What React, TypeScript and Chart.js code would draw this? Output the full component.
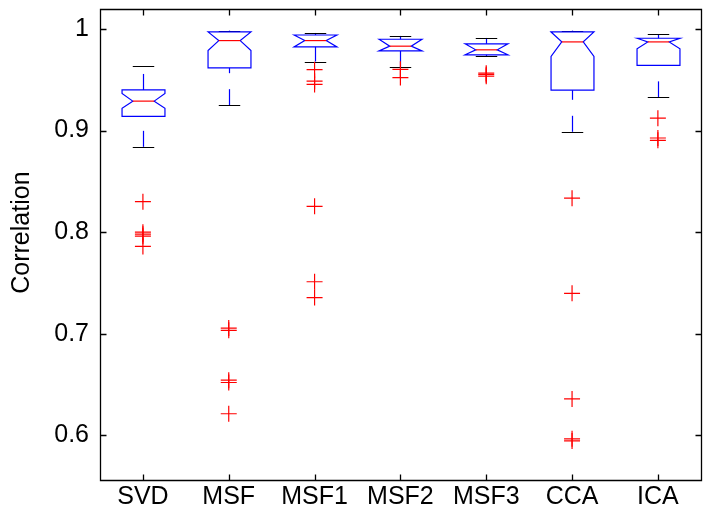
import React, { useEffect, useRef } from 'react';
import { Chart, registerables } from 'chart.js';

Chart.register(...registerables);

const categories = ['SVD', 'MSF', 'MSF1', 'MSF2', 'MSF3', 'CCA', 'ICA'];
const lowerWhisker = [0.884, 0.925, 0.968, 0.9626, 0.9734, 0.8988, 0.9327];
const q1Values = [0.914, 0.9617, 0.9824, 0.9785, 0.9746, 0.9398, 0.9642];
const medians = [0.929, 0.9886, 0.9886, 0.9831, 0.9795, 0.9873, 0.9873];
const q3Values = [0.94, 0.9972, 0.9941, 0.9899, 0.9854, 0.9971, 0.9909];
const upperWhisker = [0.9636, 0.9984, 0.9961, 0.9932, 0.9912, 0.9984, 0.9951];
const notchLow = [0.922, 0.9788, 0.9824, 0.9785, 0.9746, 0.973, 0.9805];
const notchHigh = [0.9366, 0.9972, 0.9941, 0.9899, 0.9854, 0.9971, 0.9909];
const outliers: number[][] = [
  [0.83, 0.8, 0.798, 0.796, 0.786],
  [0.7056, 0.7034, 0.6543, 0.652, 0.6212],
  [0.96, 0.9486, 0.9454, 0.8254, 0.7512, 0.7356],
  [0.9603, 0.9522],
  [0.9565, 0.955, 0.9535],
  [0.8335, 0.7398, 0.6358, 0.5965, 0.5945],
  [0.9122, 0.8927, 0.8904],
];
const yTicks = [0.6, 0.7, 0.8, 0.9, 1];
const yMin = 0.556;
const yMax = 1.0195;
const yTitle = 'Correlation';

const FONT = "'Liberation Sans', Arial, Helvetica, sans-serif";

const boxPlugin = {
  id: 'boxPlugin',
  beforeDatasetsDraw(chart: any) {
    const { ctx, scales } = chart;
    const xs = scales.x;
    const ys = scales.y;
    const unit = xs.getPixelForValue(2) - xs.getPixelForValue(1);
    const halfBox = unit * 0.25;
    const halfNotch = halfBox / 2;
    const halfCap = unit * 0.125;
    ctx.save();
    ctx.lineWidth = 1.2;
    categories.forEach((_, i) => {
      const cx = Math.round(xs.getPixelForValue(i + 1)) + 0.5;
      const pLw = ys.getPixelForValue(lowerWhisker[i]);
      const pQ1 = ys.getPixelForValue(q1Values[i]);
      const pMed = ys.getPixelForValue(medians[i]);
      const pQ3 = ys.getPixelForValue(q3Values[i]);
      const pUw = ys.getPixelForValue(upperWhisker[i]);
      const pNl = ys.getPixelForValue(notchLow[i]);
      const pNh = ys.getPixelForValue(notchHigh[i]);
      const l = cx - halfBox;
      const r = cx + halfBox;
      // whiskers (dashed blue, drawn bottom to top)
      ctx.strokeStyle = '#0000ff';
      ctx.setLineDash([16, 16]);
      ctx.beginPath();
      ctx.moveTo(cx, pLw);
      ctx.lineTo(cx, pQ1);
      ctx.stroke();
      ctx.beginPath();
      ctx.moveTo(cx, pQ3);
      ctx.lineTo(cx, pUw);
      ctx.stroke();
      ctx.setLineDash([]);
      // caps
      ctx.strokeStyle = '#000000';
      ctx.beginPath();
      ctx.moveTo(cx - halfCap, Math.round(pLw) + 0.5);
      ctx.lineTo(cx + halfCap, Math.round(pLw) + 0.5);
      ctx.moveTo(cx - halfCap, Math.round(pUw) + 0.5);
      ctx.lineTo(cx + halfCap, Math.round(pUw) + 0.5);
      ctx.stroke();
      // notched box
      ctx.strokeStyle = '#0000ff';
      ctx.beginPath();
      ctx.moveTo(l, pQ3);
      ctx.lineTo(l, pNh);
      ctx.lineTo(cx - halfNotch, pMed);
      ctx.lineTo(l, pNl);
      ctx.lineTo(l, pQ1);
      ctx.lineTo(r, pQ1);
      ctx.lineTo(r, pNl);
      ctx.lineTo(cx + halfNotch, pMed);
      ctx.lineTo(r, pNh);
      ctx.lineTo(r, pQ3);
      ctx.closePath();
      ctx.stroke();
      // median
      ctx.strokeStyle = '#ff0000';
      ctx.beginPath();
      ctx.moveTo(cx - halfNotch, pMed);
      ctx.lineTo(cx + halfNotch, pMed);
      ctx.stroke();
    });
    ctx.restore();
  },
  afterDraw(chart: any) {
    const { ctx, chartArea, scales } = chart;
    const xs = scales.x;
    const ys = scales.y;
    const L = Math.round(chartArea.left) + 0.5;
    const R = Math.round(chartArea.right) + 0.5;
    const T = Math.round(chartArea.top) + 0.5;
    const B = Math.round(chartArea.bottom) + 0.5;
    ctx.save();
    ctx.strokeStyle = '#000000';
    ctx.lineWidth = 1.3;
    ctx.beginPath();
    ctx.rect(L, T, R - L, B - T);
    const tl = 6;
    categories.forEach((_, i) => {
      const x = Math.round(xs.getPixelForValue(i + 1)) + 0.5;
      ctx.moveTo(x, B);
      ctx.lineTo(x, B - tl);
      ctx.moveTo(x, T);
      ctx.lineTo(x, T + tl);
    });
    yTicks.forEach((v) => {
      const y = Math.round(ys.getPixelForValue(v)) + 0.5;
      ctx.moveTo(L, y);
      ctx.lineTo(L + tl, y);
      ctx.moveTo(R, y);
      ctx.lineTo(R - tl, y);
    });
    ctx.stroke();
    // y title
    ctx.fillStyle = '#000000';
    ctx.font = `25px ${FONT}`;
    ctx.textAlign = 'center';
    ctx.textBaseline = 'middle';
    ctx.translate(22, (chartArea.top + chartArea.bottom) / 2 - 12);
    ctx.rotate(-Math.PI / 2);
    ctx.fillText(yTitle, 0, 0);
    ctx.restore();
  },
};

export default function App() {
  const ref = useRef<HTMLCanvasElement | null>(null);
  useEffect(() => {
    if (!ref.current) return;
    const points: { x: number; y: number }[] = [];
    outliers.forEach((arr, i) => arr.forEach((v) => points.push({ x: i + 1, y: v })));
    const chart = new Chart(ref.current, {
      type: 'scatter',
      data: {
        datasets: [
          {
            data: points,
            pointStyle: 'cross',
            radius: 8,
            borderColor: '#ff0000',
            backgroundColor: '#ff0000',
            borderWidth: 1.2,
            showLine: false,
          } as any,
        ],
      },
      options: {
        animation: false,
        responsive: false,
        devicePixelRatio: 1,
        layout: { padding: { top: 5, right: 4, left: 0, bottom: 0 } },
        plugins: { legend: { display: false }, tooltip: { enabled: false } },
        scales: {
          x: {
            type: 'linear',
            min: 0.5,
            max: 7.5,
            grid: { display: false, drawTicks: false },
            border: { display: false },
            afterBuildTicks: (s: any) => {
              s.ticks = categories.map((_, i) => ({ value: i + 1 }));
            },
            afterFit: (s: any) => {
              s.height = 40;
              s.paddingLeft = 0;
              s.paddingRight = 0;
            },
            ticks: {
              padding: 2,
              maxRotation: 0,
              autoSkip: false,
              color: '#000000',
              font: { family: FONT, size: 25 },
              callback: (v: any) => categories[Math.round(Number(v)) - 1] ?? '',
            },
          },
          y: {
            type: 'linear',
            min: yMin,
            max: yMax,
            grid: { display: false, drawTicks: false },
            border: { display: false },
            afterBuildTicks: (s: any) => {
              s.ticks = yTicks.map((v) => ({ value: v }));
            },
            afterFit: (s: any) => {
              s.width = 100;
              s.paddingTop = 0;
              s.paddingBottom = 0;
            },
            ticks: {
              padding: 11,
              color: '#000000',
              font: { family: FONT, size: 25 },
              callback: (v: any) => (Number(v) === 1 ? '1' : Number(v).toFixed(1)),
            },
          },
        },
      },
      plugins: [boxPlugin],
    });
    return () => chart.destroy();
  }, []);
  return (
    <div style={{ position: 'absolute', left: 0, top: 0, width: 710, height: 520, background: '#fff' }}>
      <canvas ref={ref} width={710} height={520} />
    </div>
  );
}
